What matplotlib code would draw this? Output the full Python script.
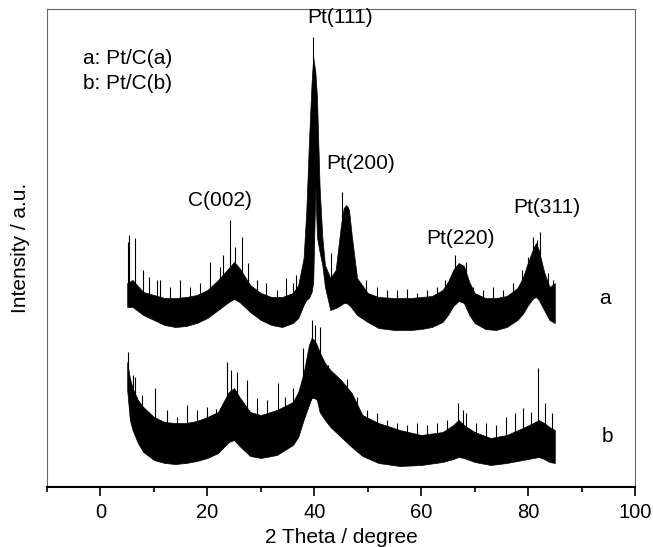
import numpy as np
import matplotlib.pyplot as plt

plt.rcParams['font.family'] = ['Liberation Sans', 'DejaVu Sans']

# Pattern a: dense noise band (lower / upper edge), arbitrary units
two_theta_a = [5, 6, 8, 10, 12, 14, 16, 18, 20, 22,
               24, 25, 26, 28, 30, 32, 34, 36, 37, 38,
               38.5, 39, 39.5, 39.8, 40.2, 40.5, 41, 41.5, 42, 43,
               44, 45, 45.5, 46, 46.5, 47, 48, 50, 52, 55,
               58, 60, 62, 64, 65, 66, 67, 68, 69, 70,
               72, 74, 76, 78, 79, 80, 81, 81.5, 82, 83,
               84, 85]
upper_a = [204, 207, 195, 192, 189, 189, 190, 192, 197, 207,
           219, 225, 219, 202, 194, 190, 190, 194, 202, 229,
           275, 345, 405, 430, 415, 390, 300, 250, 222, 209,
           217, 262, 279, 282, 277, 252, 209, 194, 190, 189,
           189, 190, 191, 197, 205, 217, 224, 221, 205, 194,
           189, 189, 191, 199, 209, 225, 239, 244, 237, 215,
           200, 204]
lower_a = [180, 180, 172, 167, 162, 160, 161, 164, 169, 177,
           185, 188, 185, 175, 167, 162, 160, 164, 169, 182,
           187, 189, 195, 205, 300, 250, 235, 222, 200, 177,
           179, 182, 184, 184, 182, 179, 172, 165, 159, 157,
           157, 158, 160, 165, 172, 181, 186, 184, 172, 164,
           158, 157, 160, 167, 173, 182, 189, 190, 187, 177,
           167, 164]

# spikes sticking out of band a
spike_x_a = [5.2, 5.4, 6.45, 8.0, 9.0, 10.5, 11.1, 13, 14.9, 16.7, 18.6, 20.5,
             22.4, 23, 24.2, 25.2, 26.4, 27.6, 29.2, 31, 33, 34.8, 36, 36.5,
             39.7, 43.2, 45.1, 46.4, 47.9, 49.6, 51.7, 53.6, 55.5, 57.3, 59.2,
             61.1, 62.9, 64.5, 66.3, 67.6, 68.3, 69.7, 71.6, 73.5, 75.4, 77.2,
             78.8, 80.0, 80.9, 81.6, 82.2, 83.7, 84.6]
spike_y_a = [245, 252, 249, 217, 210, 207, 207, 200, 207, 200, 204, 225,
             220, 232, 267, 240, 250, 224, 207, 204, 197, 209, 204, 212,
             450, 234, 295, 280, 217, 207, 200, 197, 197, 198, 194,
             197, 200, 207, 232, 222, 225, 200, 197, 200, 197, 204,
             217, 230, 250, 247, 255, 214, 207]

# Pattern b
two_theta_b = [5, 5.5, 6, 7, 8, 10, 12, 14, 16, 18,
               20, 22, 24, 25, 26, 28, 30, 33, 36, 37,
               38, 39, 39.5, 40, 40.5, 41, 42, 43, 45, 47,
               49, 52, 56, 60, 64, 66, 67, 68, 70, 73,
               76, 79, 81, 82, 83, 84, 85]
upper_b = [125, 109, 99, 87, 80, 70, 65, 64, 64, 66,
           70, 75, 95, 99, 90, 75, 72, 77, 85, 95,
           114, 142, 149, 147, 142, 135, 124, 117, 107, 94,
           72, 64, 57, 52, 55, 62, 67, 62, 55, 49,
           52, 59, 64, 67, 64, 60, 57]
lower_b = [97, 67, 57, 44, 35, 27, 24, 23, 24, 26,
           29, 34, 45, 47, 41, 31, 29, 32, 42, 50,
           67, 82, 89, 89, 87, 75, 67, 60, 50, 40,
           31, 24, 21, 22, 25, 28, 30, 29, 25, 22,
           24, 27, 29, 30, 28, 25, 24]

spike_x_b = [5.2, 6, 6.4, 7.7, 10.2, 12.4, 14.3, 16.1, 18, 19.9, 21.7, 23.6,
             24.5, 25.5, 27.4, 29.2, 31.1, 33.3, 34.5, 36.1, 37.9, 39.5, 40.2,
             41.1, 42.6, 44.2, 46.1, 48, 49.8, 51.7, 53.6, 55.5, 57.3, 59.2,
             61.1, 62.9, 64.8, 66.9, 67.8, 68.4, 70.3, 72.2, 74, 75.9, 77.5,
             79, 80.5, 81.9, 83.2, 84.4]
spike_y_b = [135, 112, 110, 92, 99, 77, 70, 82, 77, 80, 78, 125,
             117, 115, 107, 89, 87, 104, 90, 99, 139, 167, 162,
             160, 122, 110, 108, 90, 77, 74, 67, 64, 62, 64,
             62, 64, 67, 84, 77, 74, 64, 64, 62, 70, 74,
             79, 75, 119, 84, 74]

peak_labels = ['Pt(111)', 'Pt(200)', 'C(002)', 'Pt(220)', 'Pt(311)']
peak_label_x = [44.8, 48.7, 22.4, 67.4, 83.5]
peak_label_y = [470, 324, 287, 249, 280]

fig = plt.figure(figsize=(6.53, 5.47), dpi=100)
ax = fig.add_axes([0.072, 0.1097, 0.9004, 0.8738])

for tt, lo, up, sx, sy in [(two_theta_a, lower_a, upper_a, spike_x_a, spike_y_a),
                           (two_theta_b, lower_b, upper_b, spike_x_b, spike_y_b)]:
    ax.fill_between(tt, lo, up, facecolor='black', edgecolor='black', linewidth=0.5)
    # spikes start just inside the band so they don't streak through it
    base = np.interp(sx, tt, up) - 4
    ax.vlines(sx, base, sy, color='black', linewidth=0.8)

for lab, lx, ly in zip(peak_labels, peak_label_x, peak_label_y):
    ax.text(lx, ly, lab, ha='center', va='center', fontsize=15)

ax.text(-3.3, 429, 'a: Pt/C(a)', fontsize=15, va='center')
ax.text(-3.3, 404, 'b: Pt/C(b)', fontsize=15, va='center')
ax.text(94.4, 189, 'a', fontsize=15, ha='center', va='center')
ax.text(94.8, 50, 'b', fontsize=15, ha='center', va='center')

ax.set_xlim(-10, 100)
ax.set_ylim(0, 478)
ax.set_xticks([0, 20, 40, 60, 80, 100])
ax.set_xticks([-10, 10, 30, 50, 70, 90], minor=True)
ax.set_yticks([])
ax.tick_params(axis='x', which='major', direction='out', length=6.5, width=1.2,
               labelsize=14.5, pad=5)
ax.tick_params(axis='x', which='minor', direction='out', length=3.5, width=1.2)
ax.set_xlabel('2 Theta / degree', fontsize=15, labelpad=4)
ax.set_ylabel('Intensity / a.u.', fontsize=15, labelpad=12)

for side in ['top', 'right', 'left']:
    ax.spines[side].set_color('#666666')
    ax.spines[side].set_linewidth(0.8)
ax.spines['bottom'].set_linewidth(1.5)

fig.savefig('out.png', dpi=100)
